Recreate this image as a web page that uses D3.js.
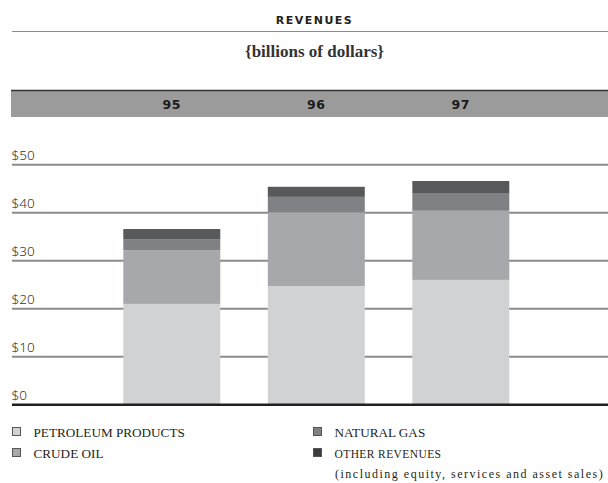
<!DOCTYPE html>
<html>
<head>
<meta charset="utf-8">
<script src="https://cdn.jsdelivr.net/npm/d3@7"></script>
<style>
  html, body { margin: 0; padding: 0; background: #fff; }
  svg { display: block; }
</style>
</head>
<body>
<svg id="chart" width="608" height="483"></svg>
<script>
// Revenue components by year, billions of dollars
const years = ["95", "96", "97"];
const petroleumProducts = [21.0, 24.7, 26.0];
const crudeOil = [11.2, 15.4, 14.4];
const naturalGas = [2.3, 3.2, 3.7];
const otherRevenues = [2.1, 2.1, 2.5];
const seriesNames = ["PETROLEUM PRODUCTS", "CRUDE OIL", "NATURAL GAS", "OTHER REVENUES"];
const yTicks = [0, 10, 20, 30, 40, 50];

const colors = ["#d1d2d4", "#a7a8ab", "#808184", "#58595b"];
const swatchColors = ["#d1d2d4", "#a7a8ab", "#808184", "#3c3c3e"];

const svg = d3.select("#chart");

const rows = years.map((y, i) => ({
  year: y,
  s0: petroleumProducts[i],
  s1: crudeOil[i],
  s2: naturalGas[i],
  s3: otherRevenues[i]
}));
const stack = d3.stack().keys(["s0", "s1", "s2", "s3"]);
const layers = stack(rows);

const x = d3.scaleBand()
  .domain(years)
  .range([123.3, 509.3])
  .paddingInner(0.329)
  .paddingOuter(0);

const y = d3.scaleLinear().domain([0, 50]).range([404.7, 164.7]);

// Header
svg.append("text")
  .attr("x", 314.5).attr("y", 24)
  .attr("text-anchor", "middle")
  .attr("font-family", "'DejaVu Sans', sans-serif")
  .attr("font-weight", "bold")
  .attr("font-size", 11)
  .attr("letter-spacing", 1.5)
  .attr("fill", "#231f20")
  .text("REVENUES");

svg.append("line")
  .attr("x1", 12).attr("x2", 608)
  .attr("y1", 31.5).attr("y2", 31.5)
  .attr("stroke", "#8c8c8c").attr("stroke-width", 1);

svg.append("text")
  .attr("x", 314.5).attr("y", 57)
  .attr("text-anchor", "middle")
  .attr("font-family", "'Liberation Serif', serif")
  .attr("font-weight", "bold")
  .attr("font-size", 17)
  .attr("fill", "#333")
  .text("{billions of dollars}");

// Year band
svg.append("rect")
  .attr("x", 11).attr("y", 90)
  .attr("width", 597).attr("height", 27)
  .attr("fill", "#9b9b9b");
svg.append("line")
  .attr("x1", 11).attr("x2", 608)
  .attr("y1", 90.5).attr("y2", 90.5)
  .attr("stroke", "#333").attr("stroke-width", 1.5);

svg.append("g")
  .selectAll("text")
  .data(years)
  .join("text")
  .attr("x", d => x(d) + x.bandwidth() / 2)
  .attr("y", 109)
  .attr("text-anchor", "middle")
  .attr("font-family", "'DejaVu Sans', sans-serif")
  .attr("font-weight", "bold")
  .attr("font-size", 12.5)
  .attr("letter-spacing", 0.5)
  .attr("fill", "#1a1a1a")
  .text(d => d);

// Gridlines and value labels
const grid = svg.append("g");
grid.selectAll("line")
  .data(yTicks.filter(t => t > 0))
  .join("line")
  .attr("x1", 12).attr("x2", 608)
  .attr("y1", d => y(d)).attr("y2", d => y(d))
  .attr("stroke", "#8c8c8c").attr("stroke-width", 2);

grid.selectAll("text")
  .data(yTicks)
  .join("text")
  .attr("x", 11.5)
  .attr("y", d => y(d) - 5)
  .attr("font-family", "'Noto Sans', sans-serif")
  .attr("font-weight", 300)
  .attr("font-size", 13.5)
  .attr("fill", "#333")
  .text(d => "$" + d);

// Stacked bars
svg.append("g")
  .selectAll("g")
  .data(layers)
  .join("g")
  .attr("fill", (d, i) => colors[i])
  .selectAll("rect")
  .data(d => d)
  .join("rect")
  .attr("x", d => x(d.data.year))
  .attr("width", x.bandwidth())
  .attr("y", d => y(d[1]))
  .attr("height", d => y(d[0]) - y(d[1]));

// Baseline
svg.append("line")
  .attr("x1", 12).attr("x2", 608)
  .attr("y1", y(0)).attr("y2", y(0))
  .attr("stroke", "#231f20").attr("stroke-width", 2.5);

// Legend
const legendPos = [
  { x: 12, y: 432 },
  { x: 12, y: 453 },
  { x: 313, y: 432 },
  { x: 313, y: 453 }
];
const legend = svg.append("g");
seriesNames.forEach((name, i) => {
  const p = legendPos[i];
  legend.append("rect")
    .attr("x", p.x + 0.5).attr("y", p.y - 4.5)
    .attr("width", 8).attr("height", 8)
    .attr("fill", swatchColors[i])
    .attr("stroke", "#555").attr("stroke-width", 1);
  legend.append("text")
    .attr("x", p.x + 21.5).attr("y", p.y + 4.5)
    .attr("font-family", "'Liberation Serif', serif")
    .attr("font-size", i === 3 ? 11.5 : 13.2)
    .attr("letter-spacing", i === 3 ? 0.4 : 0)
    .attr("fill", "#231f20")
    .text(name);
});
legend.append("text")
  .attr("x", 335).attr("y", 478)
  .attr("font-family", "'Liberation Serif', serif")
  .attr("font-size", 12)
  .attr("letter-spacing", 1.5)
  .attr("fill", "#231f20")
  .text("(including equity, services and asset sales)");
</script>
</body>
</html>
